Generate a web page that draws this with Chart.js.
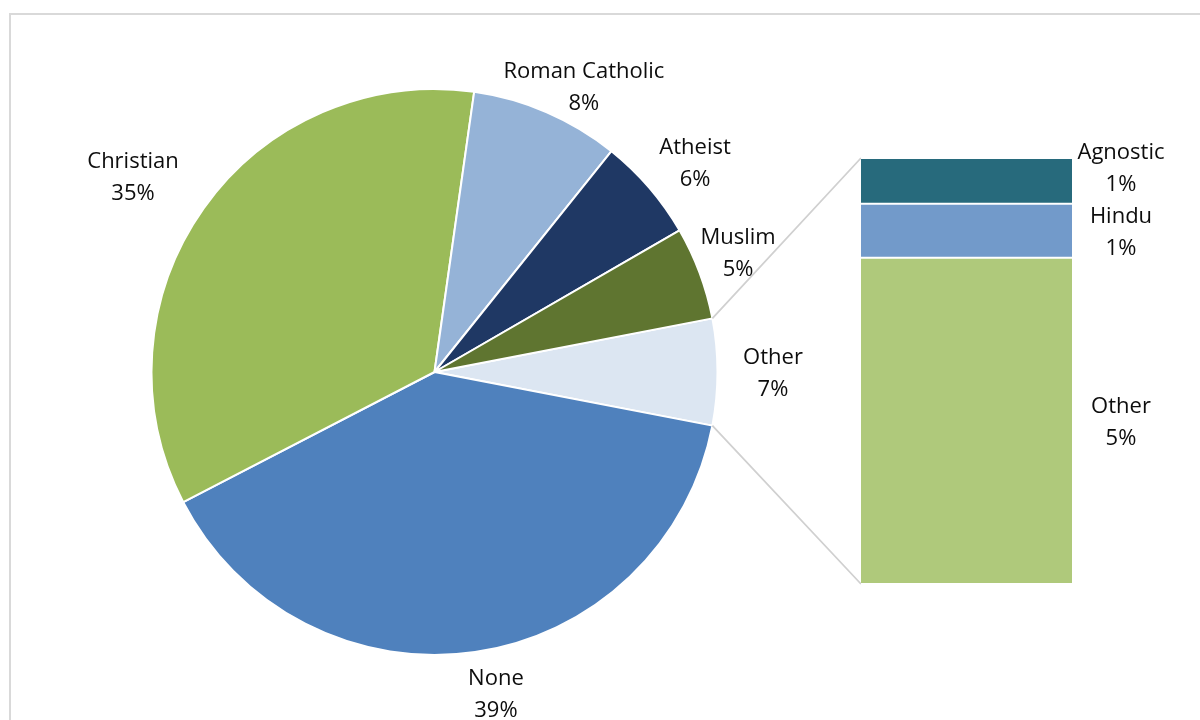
<!DOCTYPE html>
<html><head><meta charset="utf-8">
<script src="https://cdn.jsdelivr.net/npm/chart.js@4.4.1/dist/chart.umd.min.js"></script>
<style>
html,body{margin:0;padding:0;background:#fff;width:1200px;height:720px;overflow:hidden;}
#frame{position:absolute;left:9px;top:13px;width:1200px;height:720px;border:2px solid #d9d9d9;box-sizing:border-box;}
#pie{position:absolute;left:0;top:0;width:1200px;height:720px;}
#bar{position:absolute;left:861px;top:158px;width:211px;height:426px;}
</style></head><body>
<div id="frame"></div>
<canvas id="pie" width="1200" height="720"></canvas>
<canvas id="bar" width="211" height="426"></canvas>
<script>
// ---- data ----
const categories = ['Other', 'None', 'Christian', 'Roman Catholic', 'Atheist', 'Muslim'];
const values = [6.06, 39.3, 34.8, 8.5, 5.9, 5.3];
const percentLabels = ['7%', '39%', '35%', '8%', '6%', '5%'];
const barCategories = ['Other', 'Hindu', 'Agnostic'];
const barValues = [4.64, 0.77, 0.65];
const barPercentLabels = ['5%', '1%', '1%'];

// ---- styles ----
const pieColors = ['#DCE6F2', '#4F81BD', '#9BBB59', '#95B3D7', '#1F3864', '#5F7530'];
const barColors = ['#AFC97B', '#729ACA', '#276A7C'];
const labelExtra = [55.5, 43.8, 76.6, 39.7, 51.6, 43.2];
const labelAngleShift = [0, -2.6, -2.3, 4.2, 1.8, -1.0];
const FONT = '22px "Open Sans"';
const LINE = 32;
const CAP_HALF = 7.8;
const BAR_LEFT = 861, BAR_TOP = 158;

const total = values.reduce((a, b) => a + b, 0);
const barTotal = barValues.reduce((a, b) => a + b, 0);
const rotation = 90 - (values[0] / total) * 360 / 2;

function drawLabel(ctx, lines, cx, cy) {
  ctx.save();
  ctx.font = FONT;
  ctx.fillStyle = '#0d0d0d';
  ctx.textAlign = 'center';
  ctx.textBaseline = 'alphabetic';
  const n = lines.length;
  lines.forEach((t, i) => {
    ctx.fillText(t, cx, cy + (i - (n - 1) / 2) * LINE + CAP_HALF);
  });
  ctx.restore();
}

const barChart = new Chart(document.getElementById('bar'), {
  type: 'bar',
  data: {
    labels: ['Other'],
    datasets: barCategories.map((c, i) => ({
      label: c,
      data: [barValues[i]],
      backgroundColor: barColors[i],
      borderColor: '#ffffff',
      borderWidth: {top: 1.3, bottom: 1.3, left: 0, right: 0},
      borderSkipped: false,
      barPercentage: 1,
      categoryPercentage: 1
    }))
  },
  options: {
    responsive: false, animation: false, events: [],
    layout: {padding: 0},
    plugins: {legend: {display: false}, tooltip: {enabled: false}},
    scales: {
      x: {display: false, stacked: true},
      y: {display: false, stacked: true, min: 0, max: barTotal}
    }
  }
});

const overlay = {
  id: 'overlay',
  afterDraw(chart) {
    const ctx = chart.ctx;
    const arcs = chart.getDatasetMeta(0).data;
    // pie labels
    arcs.forEach((arc, i) => {
      const mid = (arc.startAngle + arc.endAngle) / 2 + labelAngleShift[i] * Math.PI / 180;
      const d = arc.outerRadius + labelExtra[i];
      drawLabel(ctx, [categories[i], percentLabels[i]], arc.x + d * Math.cos(mid), arc.y + d * Math.sin(mid));
    });
    // connectors
    const o = arcs[0];
    const topEl = barChart.getDatasetMeta(barCategories.length - 1).data[0];
    const botEl = barChart.getDatasetMeta(0).data[0];
    const bx = BAR_LEFT + topEl.x - topEl.width / 2;
    const by1 = BAR_TOP + topEl.y;
    const by2 = BAR_TOP + botEl.base;
    ctx.save();
    ctx.strokeStyle = '#d0d0d0';
    ctx.lineWidth = 1.8;
    ctx.beginPath();
    ctx.moveTo(o.x + o.outerRadius * Math.cos(o.startAngle), o.y + o.outerRadius * Math.sin(o.startAngle));
    ctx.lineTo(bx, by1);
    ctx.moveTo(o.x + o.outerRadius * Math.cos(o.endAngle), o.y + o.outerRadius * Math.sin(o.endAngle));
    ctx.lineTo(bx, by2);
    ctx.stroke();
    ctx.restore();
    // bar labels, bottom to top with overlap avoidance
    let prevTop = Infinity;
    const half = LINE;
    barCategories.forEach((c, i) => {
      const el = barChart.getDatasetMeta(i).data[0];
      let cy = BAR_TOP + (el.y + el.base) / 2;
      if (cy + half > prevTop) cy = prevTop - half;
      prevTop = cy - half;
      const cx = BAR_LEFT + el.x + el.width / 2 + 49;
      drawLabel(ctx, [c, barPercentLabels[i]], cx, cy);
    });
  }
};

const pieChart = new Chart(document.getElementById('pie'), {
  type: 'pie',
  data: {
    labels: categories,
    datasets: [{data: values, backgroundColor: pieColors, borderColor: '#ffffff', borderWidth: 2}]
  },
  options: {
    responsive: false, animation: false, events: [],
    radius: 283,
    rotation: rotation,
    layout: {padding: {left: 0, right: 331, top: 24, bottom: 0}},
    plugins: {legend: {display: false}, tooltip: {enabled: false}}
  },
  plugins: [overlay]
});
</script></body></html>
